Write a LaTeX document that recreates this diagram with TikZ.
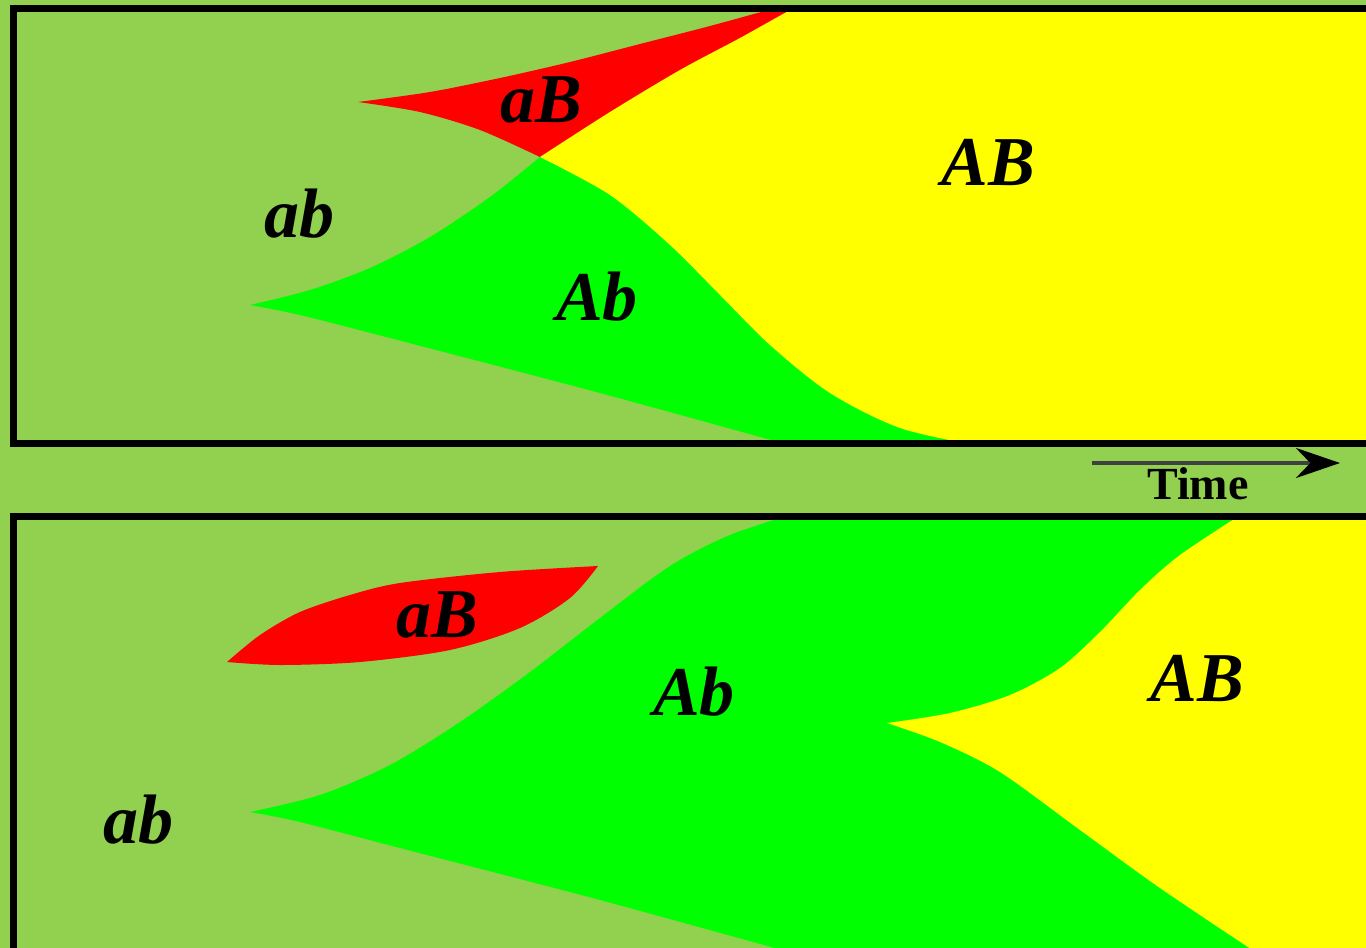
\documentclass[tikz,border=0pt]{standalone}
\usepackage{fontspec}
\setmainfont{Liberation Serif}
\usepackage{xcolor}
\definecolor{gnlime}{RGB}{146,208,80}
\definecolor{gngreen}{RGB}{0,255,0}
\definecolor{gnyellow}{RGB}{255,255,0}
\definecolor{gnred}{RGB}{255,0,0}
\definecolor{gngray}{RGB}{64,64,64}
\usepackage{tikz}
\usetikzlibrary{arrows.meta}

\tikzset{
  genolabel/.style={font=\fontsize{35}{40}\selectfont\bfseries\itshape, inner sep=0pt},
  panelframe/.style={draw=black, line width=3.5pt},
}

\begin{document}
\begin{tikzpicture}[x=0.5pt, y=-0.5pt]
  \useasboundingbox (0,0) rectangle (1366,948);
  \begin{scope}
  \clip (0,0) rectangle (1366,948);
  \fill[gnlime] (0,0) rectangle (1366,948);

  % Panel 1
  \begin{scope}
    \clip (13.5,8.5) rectangle (1400,443);
    % aB
    \fill[gnred] plot[smooth] coordinates {(358,102) (430,92) (500,78) (570,62) (640,44) (710,26) (790,4)}
      -- (850,0) -- (540,157)
      -- plot[smooth] coordinates {(540,157) (480,130) (420,112) (358,102)} -- cycle;
    % Ab
    \fill[gngreen] plot[smooth] coordinates {(250,305) (310,290) (370,268) (430,237) (490,197) (540,157)}
      -- (760,157) -- (1000,450) -- (800,450)
      -- plot[smooth] coordinates {(800,448) (600,393) (390,338) (300,315) (250,305)} -- cycle;
    % AB
    \fill[gnyellow] plot[smooth] coordinates {(820,0) (800,5) (740,38) (680,70) (610,112) (540,157)}
      -- plot[smooth] coordinates {(540,157) (610,195) (670,245) (720,295) (770,345) (830,393) (900,428) (980,446)}
      -- (1400,448) -- (1400,0) -- cycle;
  \end{scope}
  \draw[panelframe] (13.5,8.5) rectangle (1400,443);

  % Panel 2
  \begin{scope}
    \clip (13.5,516) rectangle (1400,1000);
    % aB
    \fill[gnred] plot[smooth] coordinates {(227,662) (260,635) (300,612) (350,595) (400,583) (500,572) (598,566)}
      -- plot[smooth] coordinates {(598,566) (570,598) (520,628) (450,650) (360,662) (280,665) (227,662)} -- cycle;
    % Ab
    \fill[gngreen] plot[smooth] coordinates {(250,812) (320,795) (390,765) (460,722) (530,672) (600,618) (670,566) (730,535) (800,512)}
      -- (1400,512) -- (1400,960)
      -- plot[smooth] coordinates {(800,955) (600,900) (400,848) (300,822) (250,812)} -- cycle;
    % AB
    \fill[gnyellow] plot[smooth] coordinates {(1245,512) (1180,555) (1140,590) (1100,632) (1060,668) (1010,695) (950,713) (887,723)}
      -- plot[smooth] coordinates {(887,723) (940,742) (1000,772) (1080,830) (1160,888) (1260,955)}
      -- (1400,955) -- (1400,510) -- cycle;
  \end{scope}
  \draw[panelframe] (13.5,516) rectangle (1400,1000);

  % Labels
  \node[genolabel] (aBtop) at (541,100) {aB};
  \node[genolabel] (ABtop) at (988,162) {AB};
  \node[genolabel] (abtop) at (299,214) {ab};
  \node[genolabel] (Abtop) at (597,297) {Ab};
  \node[genolabel] (aBbot) at (437,615) {aB};
  \node[genolabel] (Abbot) at (694,692) {Ab};
  \node[genolabel] (ABbot) at (1197,678) {AB};
  \node[genolabel] (abbot) at (138,820) {ab};

  % Time arrow
  \coordinate (timestart) at (1092,463);
  \coordinate (timeend) at (1340,463);
  \draw[gngray, line width=2pt, -{Stealth[length=22pt, width=15pt, black]}] (timestart) -- (timeend);
  \node[font=\fontsize{23}{26}\selectfont\bfseries, inner sep=0pt] (timelabel) at (1198,484) {Time};
  \end{scope}
\end{tikzpicture}
\end{document}
